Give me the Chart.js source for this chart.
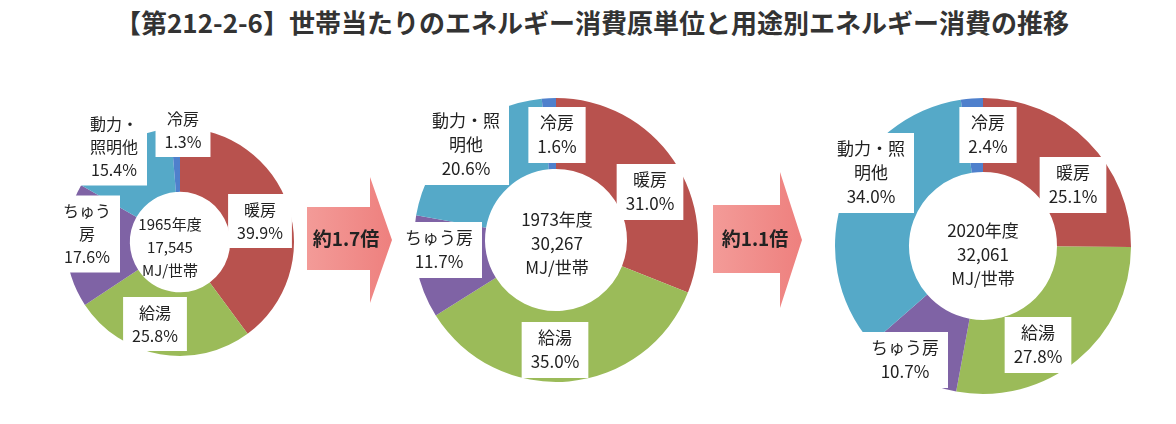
<!DOCTYPE html>
<html lang="ja">
<head>
<meta charset="utf-8">
<script src="https://cdn.jsdelivr.net/npm/chart.js@4.4.1/dist/chart.umd.min.js"></script>
<style>
  html, body { margin: 0; padding: 0; background: #fff; }
  body { width: 1176px; height: 424px; position: relative; overflow: hidden; font-family: "Noto Sans CJK JP", sans-serif; }
  #title { position: absolute; left: 14px; top: 6px; width: 1156px; text-align: center; font-size: 26px; font-weight: bold; color: #333; line-height: 32px; white-space: nowrap; }
  canvas { position: absolute; top: 0; }
  #arrows { position: absolute; left: 0; top: 0; }
</style>
</head>
<body>
<div id="title">【第212-2-6】世帯当たりのエネルギー消費原単位と用途別エネルギー消費の推移</div>
<canvas id="c1965" width="290" height="424" style="left:20px"></canvas>
<canvas id="c1973" width="320" height="424" style="left:400px"></canvas>
<canvas id="c2020" width="330" height="424" style="left:825px"></canvas>
<svg id="arrows" width="1176" height="424">
  <defs>
    <linearGradient id="ag" x1="0" y1="0" x2="1" y2="0">
      <stop offset="0" stop-color="#F39B98"/>
      <stop offset="1" stop-color="#EE807E"/>
    </linearGradient>
  </defs>
  <polygon points="307,207 370,207 370,177 392,240 370,303 370,270 307,270" fill="url(#ag)"/>
  <polygon points="713,205 780,205 780,172 802,240 780,308 780,273 713,273" fill="url(#ag)"/>
  <text id="r1" x="346" y="246" text-anchor="middle" font-size="19" font-weight="bold" fill="#222" font-family="Noto Sans CJK JP"></text>
  <text id="r2" x="755" y="246" text-anchor="middle" font-size="19" font-weight="bold" fill="#222" font-family="Noto Sans CJK JP"></text>
</svg>
<script>
// data
const categories = ['暖房', '給湯', 'ちゅう房', '動力・照明他', '冷房'];
const years = ['1965年度', '1973年度', '2020年度'];
const totals = ['17,545', '30,267', '32,061'];
const share1965 = [39.9, 25.8, 17.6, 15.4, 1.3];
const share1973 = [31.0, 35.0, 11.7, 20.6, 1.6];
const share2020 = [25.1, 27.8, 10.7, 34.0, 2.4];
const ratios = ['約1.7倍', '約1.1倍'];

const colors = ['#B8524E', '#9BBB59', '#7F63A5', '#55A9C8', '#4F80CC'];

document.getElementById('r1').textContent = ratios[0];
document.getElementById('r2').textContent = ratios[1];

// where each category name is wrapped, per chart
const breaks1965 = [null, null, 3, 3, null];
const breaks2 = [null, null, null, 4, null];

function labelLines(values, breaks) {
  return categories.map((name, i) => {
    const b = breaks[i];
    const nameLines = b ? [name.slice(0, b), name.slice(b)] : [name];
    return nameLines.concat([values[i].toFixed(1) + '%']);
  });
}

function boxLabels(lines, offsets, centerLines, centerDx, centerDy, font, centerFont, lh) {
  return {
    id: 'boxLabels',
    afterDatasetsDraw(chart) {
      const ctx = chart.ctx;
      const arc = chart.getDatasetMeta(0).data[0];
      const cx = arc.x, cy = arc.y;
      ctx.save();
      ctx.textAlign = 'center';
      ctx.textBaseline = 'middle';
      ctx.font = font;
      lines.forEach((ls, i) => {
        const x = cx + offsets[i][0], y = cy + offsets[i][1];
        const w = Math.max(...ls.map(l => ctx.measureText(l).width)) + 18;
        const h = ls.length * lh + 8;
        ctx.fillStyle = '#fff';
        ctx.fillRect(x - w / 2, y - h / 2, w, h);
        ctx.fillStyle = '#222';
        ls.forEach((l, k) => ctx.fillText(l, x, y - (ls.length - 1) * lh / 2 + k * lh));
      });
      ctx.font = centerFont;
      ctx.fillStyle = '#222';
      centerLines.forEach((l, k) => ctx.fillText(l, cx + centerDx, cy + centerDy - (centerLines.length - 1) * lh / 2 + k * lh));
      ctx.restore();
    }
  };
}

function makeChart(id, canvasLeft, canvasW, cx, cy, r, cutout, values, plugin) {
  const left = cx - r - canvasLeft;
  return new Chart(document.getElementById(id), {
    type: 'doughnut',
    data: {
      labels: categories,
      datasets: [{
        data: values,
        backgroundColor: colors,
        borderWidth: 0
      }]
    },
    options: {
      responsive: false,
      animation: false,
      cutout: cutout,
      layout: {
        padding: { left: left, right: canvasW - left - 2 * r, top: cy - r, bottom: 424 - cy - r }
      },
      plugins: { legend: { display: false }, tooltip: { enabled: false } }
    },
    plugins: [plugin]
  });
}

makeChart('c1965', 20, 290, 180, 242, 114, '44%', share1965,
  boxLabels(labelLines(share1965, breaks1965),
    [[80, -21], [-25, 82], [-93, -8], [-66, -95], [3, -112]],
    [years[0], totals[0], 'MJ/世帯'], -10, 5,
    '16px "Noto Sans CJK JP"', '15px "Noto Sans CJK JP"', 23));

makeChart('c1973', 400, 320, 556, 240, 142, '50%', share1973,
  boxLabels(labelLines(share1973, breaks2),
    [[94, -48], [-1, 110], [-117, 10], [-90, -95], [1, -105]],
    [years[1], totals[1], 'MJ/世帯'], 1, 4,
    '17px "Noto Sans CJK JP"', '17px "Noto Sans CJK JP"', 24));

makeChart('c2020', 825, 330, 983, 246, 148, '50%', share2020,
  boxLabels(labelLines(share2020, breaks2),
    [[90, -61], [55, 99], [-78, 114], [-112, -73], [5, -111]],
    [years[2], totals[2], 'MJ/世帯'], 0, 9,
    '17px "Noto Sans CJK JP"', '17px "Noto Sans CJK JP"', 24));
</script>
</body>
</html>
